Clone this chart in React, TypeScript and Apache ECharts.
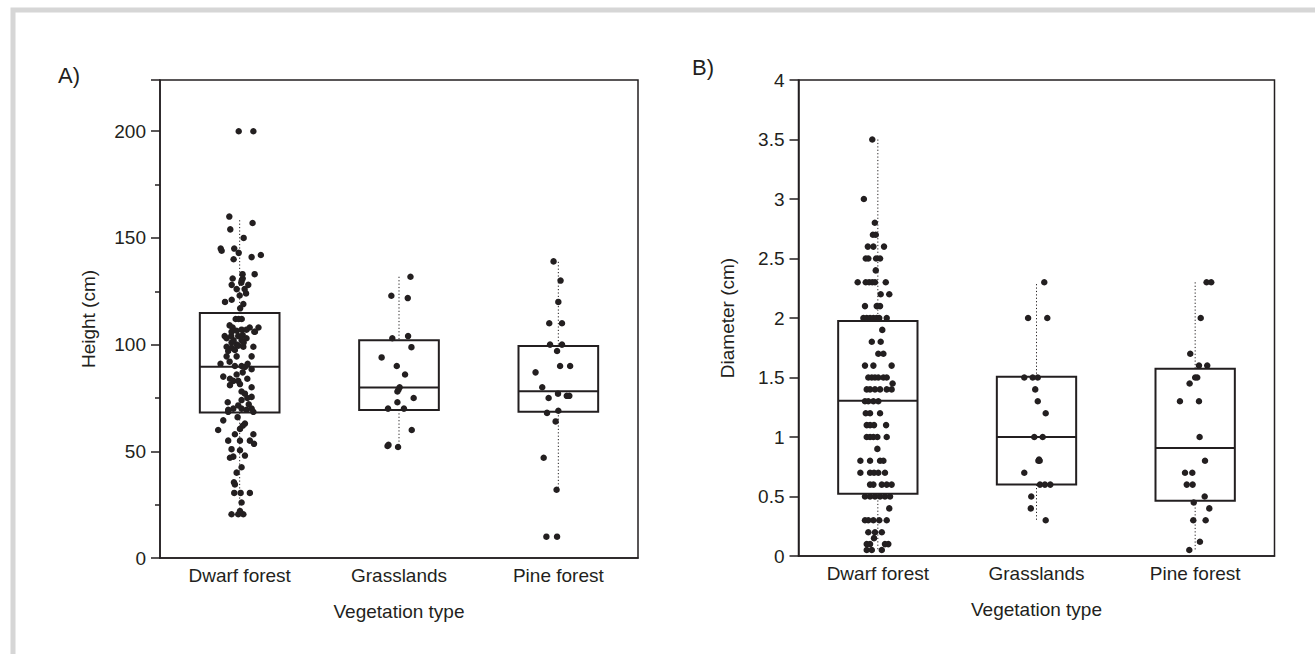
import React, { useEffect, useRef } from "react";
import * as echarts from "echarts";

// ---------- data ----------
const categories = ["Dwarf forest", "Grasslands", "Pine forest"];

// box statistics: [min whisker, Q1, median, Q3, max whisker]
const heightBoxes = [
  [20, 68.2, 89.6, 114.8, 158.3],
  [52, 69.4, 79.9, 102, 131.8],
  [32, 68.5, 78.2, 99.4, 138.8],
];
const diameterBoxes = [
  [0.05, 0.524, 1.305, 1.975, 3.5],
  [0.3, 0.6, 1.0, 1.507, 2.285],
  [0.05, 0.465, 0.908, 1.574, 2.3],
];

// jittered points: [horizontal jitter (category units), value]
const heightDwarf = [
  [-0.006, 200], [0.086, 200], [-0.065, 160], [0.081, 157], [-0.059, 154], [0.025, 150],
  [-0.119, 145], [-0.113, 144], [-0.034, 145], [-0.006, 143], [0.075, 141], [0.133, 142],
  [-0.038, 140], [0.018, 133], [0.094, 133], [0.019, 131], [-0.044, 131], [0.013, 130],
  [-0.05, 128], [0.01, 129], [0.054, 128], [-0.019, 126], [0.031, 126], [0, 123],
  [0.04, 124], [-0.092, 120], [-0.05, 121], [0.023, 119], [0.003, 117], [-0.025, 112],
  [-0.006, 112], [0.013, 112], [-0.063, 109], [-0.044, 108], [0.063, 108], [0.118, 108],
  [0.092, 106], [-0.094, 104], [-0.053, 104], [-0.009, 104], [0.019, 104.5],
  [-0.051, 106], [-0.019, 106.5], [0.012, 107], [0.043, 107], [0.096, 106], [-0.082, 103],
  [-0.051, 101], [-0.019, 100], [0.012, 102], [-0.009, 99.5], [0.043, 103], [-0.082, 99],
  [-0.051, 98.5], [0.023, 99], [0.086, 99], [-0.072, 97], [-0.03, 97.5], [-0.082, 94.5],
  [-0.019, 94.5], [0.075, 94.5], [-0.12, 91], [-0.03, 90], [0.012, 90], [0.033, 89.5],
  [0.075, 88.5], [-0.103, 85], [-0.061, 84], [-0.04, 83], [-0.009, 83], [0.048, 84],
  [-0.061, 81], [0.002, 81.5], [0.075, 80], [0.012, 78], [0.033, 77], [0.048, 75],
  [0.075, 75.5], [0.012, 74], [-0.009, 71.5], [-0.04, 70], [-0.072, 69.5], [0.012, 70],
  [0.043, 69.5], [0.075, 70], [-0.072, 68.5], [0.086, 68.5], [-0.103, 64.5], [0.033, 63],
  [0.002, 60.5], [-0.135, 60], [0.086, 58], [0.064, 55], [0.09, 53.5], [-0.03, 58],
  [-0.072, 55], [0.002, 55], [-0.051, 51], [0.002, 50.5], [-0.04, 47.5], [-0.061, 47],
  [0.033, 48], [0.012, 42.5], [-0.019, 40], [-0.036, 35.5], [-0.03, 34.5], [-0.034, 30.5],
  [0.006, 30.5], [0.064, 30.5], [0.012, 26], [-0.051, 20.5], [-0.009, 20.5], [0.023, 20.5],
  [0.002, 22], [-0.038, 102], [0.025, 101], [-0.063, 92], [0.05, 91], [-0.019, 86],
  [0.019, 87], [-0.075, 73], [0.057, 72], [-0.013, 66], [0.019, 62],
];
const heightGrass = [
  [0.072, 131.8], [-0.048, 122.9], [0.055, 121.8], [-0.042, 103], [0.057, 104], [0.078, 98.8],
  [-0.109, 94], [-0.014, 90], [0.038, 86], [0.004, 80], [-0.003, 79], [-0.01, 78],
  [0.092, 75], [-0.01, 73], [-0.069, 70], [0.031, 70], [0.08, 60], [-0.072, 52.5],
  [-0.066, 53], [-0.006, 52],
];
const heightPine = [
  [-0.03, 139], [0.014, 130], [0, 120], [-0.057, 110], [0.023, 110], [-0.052, 100],
  [0.023, 100], [-0.008, 97], [0.011, 90], [0.074, 90], [-0.143, 87], [-0.101, 80],
  [-0.002, 77], [0.053, 76], [0.069, 76], [-0.061, 75], [-0.071, 68], [0, 69],
  [-0.017, 64], [-0.092, 47], [-0.011, 32], [-0.075, 10], [-0.008, 10],
];

const diameterDwarf = [
  [-0.035, 3.5], [-0.088, 3.0], [-0.019, 2.8], [-0.031, 2.7], [-0.013, 2.7],
  [-0.063, 2.6], [-0.028, 2.6], [0.039, 2.6],
  [-0.076, 2.5], [-0.06, 2.5], [-0.011, 2.5], [0.014, 2.5], [-0.013, 2.4],
  [-0.127, 2.3], [-0.076, 2.3], [-0.055, 2.3], [-0.035, 2.3], [-0.018, 2.3], [0.05, 2.3],
  [0.018, 2.2], [0.072, 2.2], [-0.081, 2.1], [-0.007, 2.1], [0.014, 2.1],
  [-0.091, 2], [-0.07, 2], [-0.049, 2], [-0.028, 2], [-0.008, 2], [0.009, 2], [0.056, 2],
  [0.028, 1.9], [-0.038, 1.8], [0.018, 1.8], [0.003, 1.7], [0.035, 1.7],
  [-0.081, 1.6], [-0.028, 1.6], [0.087, 1.6],
  [-0.06, 1.5], [-0.038, 1.5], [-0.018, 1.5], [0.003, 1.5], [0.035, 1.5], [0.056, 1.5],
  [0.093, 1.45],
  [-0.07, 1.4], [-0.049, 1.4], [-0.018, 1.4], [0.014, 1.4], [0.056, 1.4], [0.087, 1.4],
  [-0.081, 1.3], [-0.06, 1.3], [-0.028, 1.3], [0.003, 1.3],
  [-0.076, 1.2], [-0.049, 1.2], [0.014, 1.2],
  [-0.07, 1.1], [-0.049, 1.1], [-0.024, 1.1], [0.052, 1.1],
  [-0.07, 1], [-0.049, 1], [-0.028, 1], [-0.003, 1], [0.056, 1],
  [-0.003, 0.9],
  [-0.11, 0.8], [-0.049, 0.8], [0.014, 0.8], [0.035, 0.8],
  [-0.11, 0.7], [-0.049, 0.7], [-0.024, 0.7], [0.003, 0.7], [0.045, 0.7],
  [-0.049, 0.6], [-0.028, 0.6], [0.025, 0.6], [0.056, 0.6], [0.087, 0.6],
  [-0.081, 0.5], [-0.049, 0.5], [-0.018, 0.5], [0.014, 0.5], [0.045, 0.5], [0.077, 0.5],
  [0.072, 0.4],
  [-0.081, 0.3], [-0.06, 0.3], [-0.028, 0.3], [0.009, 0.3], [0.056, 0.3],
  [-0.06, 0.2], [-0.018, 0.2], [0.025, 0.2], [-0.024, 0.15],
  [-0.07, 0.1], [-0.049, 0.1], [0.045, 0.1], [0.066, 0.1],
  [-0.07, 0.05], [-0.038, 0.05], [0.025, 0.05],
];
const diameterGrass = [
  [0.049, 2.3], [-0.053, 2], [0.068, 2], [-0.077, 1.5], [-0.024, 1.5], [0.008, 1.5],
  [-0.008, 1.4], [0.008, 1.3], [0.058, 1.2], [-0.014, 1], [0.039, 1], [0.012, 0.8],
  [0.02, 0.8], [0.016, 0.81], [-0.077, 0.7], [0.022, 0.6], [0.053, 0.6], [0.087, 0.6],
  [-0.033, 0.5], [-0.036, 0.4], [0.058, 0.3],
];
const diameterPine = [
  [0.072, 2.3], [0.101, 2.3], [0.035, 2], [-0.031, 1.7], [0.024, 1.6], [0.076, 1.6],
  [0, 1.5], [0.013, 1.5], [-0.035, 1.45], [-0.096, 1.3], [0.024, 1.3], [0.028, 1],
  [0.062, 0.8], [-0.064, 0.7], [-0.018, 0.7], [-0.053, 0.6], [-0.016, 0.6], [0.06, 0.5],
  [-0.009, 0.45], [0.089, 0.4], [-0.012, 0.3], [0.066, 0.3], [0.03, 0.12], [-0.037, 0.05],
];

const heightTicks = [0, 50, 100, 150, 200];
const diameterTicks = [0, 0.5, 1, 1.5, 2, 2.5, 3, 3.5, 4];

// ---------- style ----------
const FONT = "'Liberation Sans', Arial, sans-serif";
const INK = "#231f20";
const BOX_WIDTH = 0.5;

function boxRenderItem(params: any, api: any) {
  const cat = api.value(0);
  const lo = api.coord([cat, api.value(1)]);
  const q1 = api.coord([cat, api.value(2)]);
  const med = api.coord([cat, api.value(3)]);
  const q3 = api.coord([cat, api.value(4)]);
  const hi = api.coord([cat, api.value(5)]);
  const half = api.size([BOX_WIDTH, 0])[0] / 2;
  const dotted = { stroke: INK, lineWidth: 1, lineDash: [1.2, 2.2] };
  return {
    type: "group",
    children: [
      { type: "line", shape: { x1: hi[0], y1: hi[1], x2: q3[0], y2: q3[1] }, style: dotted },
      { type: "line", shape: { x1: q1[0], y1: q1[1], x2: lo[0], y2: lo[1] }, style: dotted },
      {
        type: "rect",
        shape: { x: q3[0] - half, y: q3[1], width: half * 2, height: q1[1] - q3[1] },
        style: { fill: "none", stroke: INK, lineWidth: 2 },
      },
      {
        type: "line",
        shape: { x1: med[0] - half, y1: med[1], x2: med[0] + half, y2: med[1] },
        style: { stroke: INK, lineWidth: 2 },
      },
    ],
  };
}

function jitter(groups: number[][][]) {
  const out: number[][] = [];
  groups.forEach((pts, ci) => pts.forEach(([j, v]) => out.push([ci + j, v])));
  return out;
}

function boxData(stats: number[][]) {
  return stats.map((s, i) => [i, ...s]);
}

export default function App() {
  const ref = useRef<HTMLDivElement>(null);
  useEffect(() => {
    if (!ref.current) return;
    const chart = echarts.init(ref.current, undefined, { renderer: "svg" });

    const labelStyle = { fontFamily: FONT, fontSize: 19, color: INK };
    const catAxis = (gridIndex: number) => ({
      type: "category",
      gridIndex,
      data: categories,
      boundaryGap: true,
      axisLine: { show: true, onZero: false, lineStyle: { color: INK, width: 1.5 } },
      axisTick: { show: false },
      axisLabel: { ...labelStyle, margin: 8 },
      name: "Vegetation type",
      nameLocation: "middle",
      nameGap: 44,
      nameTextStyle: { ...labelStyle },
      splitLine: { show: false },
    });
    const valXAxis = (gridIndex: number) => ({
      type: "value",
      gridIndex,
      min: -0.5,
      max: 2.5,
      show: false,
      axisLine: { onZero: false },
    });
    const yBase = {
      type: "value",
      axisLine: { show: true, onZero: false, lineStyle: { color: INK, width: 1.5 } },
      axisTick: { show: true, length: 9, lineStyle: { color: INK, width: 1.5 } },
      splitLine: { show: false },
      minorSplitLine: { show: false },
      nameLocation: "middle",
      nameGap: 62,
      nameRotate: 90,
      nameTextStyle: { ...labelStyle },
    };

    const option: any = {
      animation: false,
      backgroundColor: "#ffffff",
      grid: [
        { left: 160, top: 80, width: 478, height: 478, show: true, borderColor: INK, borderWidth: 1.5 },
        { left: 798.5, top: 80, width: 476, height: 476, show: true, borderColor: INK, borderWidth: 1.5 },
      ],
      xAxis: [catAxis(0), valXAxis(0), catAxis(1), valXAxis(1)],
      yAxis: [
        {
          ...yBase,
          gridIndex: 0,
          min: 0,
          max: 224,
          interval: 50,
          minorTick: { show: true, splitNumber: 2, length: 5, lineStyle: { color: INK, width: 1.5 } },
          axisLabel: {
            ...labelStyle,
            margin: 14,
            formatter: (v: number) => (heightTicks.includes(v) ? String(v) : ""),
          },
          name: "Height (cm)",
        },
        {
          ...yBase,
          gridIndex: 1,
          min: 0,
          max: 4,
          interval: 0.5,
          axisLabel: {
            ...labelStyle,
            margin: 14,
            formatter: (v: number) => (diameterTicks.includes(v) ? String(v) : ""),
          },
          name: "Diameter (cm)",
        },
      ],
      graphic: [
        {
          type: "rect",
          shape: { x: 13, y: 10, width: 1400, height: 700 },
          style: { fill: "none", stroke: "#d6d6d6", lineWidth: 5 },
          silent: true,
        },
        {
          type: "text",
          left: 58,
          top: 64,
          style: { text: "A)", font: `22px ${FONT}`, fill: INK },
        },
        {
          type: "text",
          left: 692,
          top: 56,
          style: { text: "B)", font: `22px ${FONT}`, fill: INK },
        },
      ],
      series: [
        {
          type: "custom",
          xAxisIndex: 1,
          yAxisIndex: 0,
          renderItem: boxRenderItem,
          encode: { x: 0, y: [1, 2, 3, 4, 5] },
          data: boxData(heightBoxes),
          z: 2,
        },
        {
          type: "scatter",
          xAxisIndex: 1,
          yAxisIndex: 0,
          symbolSize: 6.5,
          itemStyle: { color: INK, opacity: 1 },
          data: jitter([heightDwarf, heightGrass, heightPine]),
          z: 3,
        },
        {
          type: "custom",
          xAxisIndex: 3,
          yAxisIndex: 1,
          renderItem: boxRenderItem,
          encode: { x: 0, y: [1, 2, 3, 4, 5] },
          data: boxData(diameterBoxes),
          z: 2,
        },
        {
          type: "scatter",
          xAxisIndex: 3,
          yAxisIndex: 1,
          symbolSize: 6.5,
          itemStyle: { color: INK, opacity: 1 },
          data: jitter([diameterDwarf, diameterGrass, diameterPine]),
          z: 3,
        },
      ],
    };
    chart.setOption(option);
    return () => chart.dispose();
  }, []);

  return (
    <div
      ref={ref}
      style={{ position: "absolute", left: 0, top: 0, width: 1315, height: 654, background: "#fff" }}
    />
  );
}
